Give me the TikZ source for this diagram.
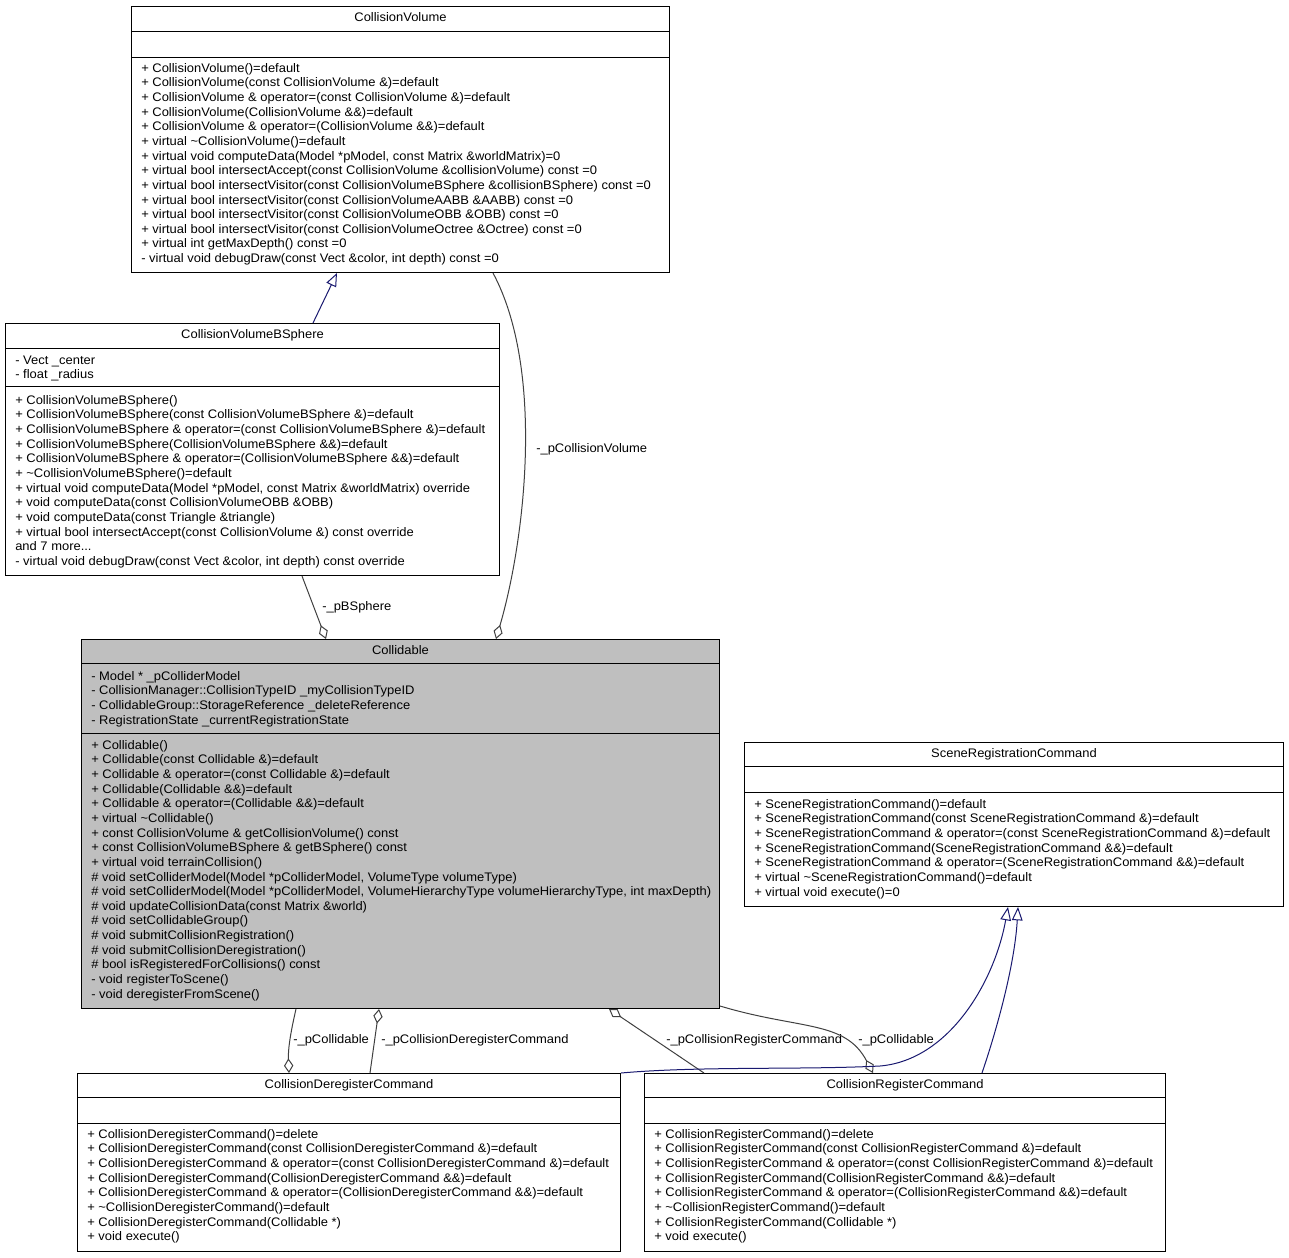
\documentclass[tikz,border=0pt]{standalone}
\usepackage{fontspec}
\setmainfont{Liberation Sans}[FakeStretch=1.045]
\usetikzlibrary{arrows.meta,calc}
\definecolor{navyedge}{RGB}{25,25,112}
\definecolor{greyedge}{RGB}{64,64,64}
\definecolor{colfill}{RGB}{191,191,191}
\newcommand\umlbox[6]{%
  \node[box,#6,minimum width={(#4-#2)*0.75pt},minimum height={(#5-#3)*0.75pt}] (#1) at (#2,#3) {};}
\newcommand\tl{\textasciitilde{}}
\begin{document}
\begin{tikzpicture}[x=0.75pt,y=-0.75pt,
  font=\fontsize{9.3}{10.98}\selectfont,
  box/.style={draw=black, line width=0.75pt, inner sep=0, anchor=north west},
  txt/.style={anchor=north west, align=left, inner sep=0},
  ttl/.style={anchor=base, inner sep=0},
  lbl/.style={anchor=base west, inner sep=0},
  inh/.style={draw=navyedge, line width=0.75pt, -{Triangle[open, length=10pt, width=8pt]}},
  agg/.style={draw=greyedge, line width=0.75pt, -{Diamond[open, length=11pt, width=7pt]}},
  sep/.style={draw=black, line width=0.75pt}]

\useasboundingbox[fill=white] (0,0) rectangle (1289,1257);

% ---------- CollisionVolume ----------
\umlbox{cv}{131}{6}{669}{272}{fill=white}
\draw[sep] ($(cv.north west)+(0,25)$) -- ($(cv.north east)+(0,25)$);
\draw[sep] ($(cv.north west)+(0,51)$) -- ($(cv.north east)+(0,51)$);
\node[ttl] (cvt) at ($(cv.north)+(0,15.5)$) {CollisionVolume};
\node[txt] (cvm) at (141,61.75) {\strut + CollisionVolume()=default\\
+ CollisionVolume(const CollisionVolume \&)=default\\
+ CollisionVolume \& operator=(const CollisionVolume \&)=default\\
+ CollisionVolume(CollisionVolume \&\&)=default\\
+ CollisionVolume \& operator=(CollisionVolume \&\&)=default\\
+ virtual \tl CollisionVolume()=default\\
+ virtual void computeData(Model *pModel, const Matrix \&worldMatrix)=0\\
+ virtual bool intersectAccept(const CollisionVolume \&collisionVolume) const =0\\
+ virtual bool intersectVisitor(const CollisionVolumeBSphere \&collisionBSphere) const =0\\
+ virtual bool intersectVisitor(const CollisionVolumeAABB \&AABB) const =0\\
+ virtual bool intersectVisitor(const CollisionVolumeOBB \&OBB) const =0\\
+ virtual bool intersectVisitor(const CollisionVolumeOctree \&Octree) const =0\\
+ virtual int getMaxDepth() const =0\\
- virtual void debugDraw(const Vect \&color, int depth) const =0};

% ---------- CollisionVolumeBSphere ----------
\umlbox{bs}{5}{323}{499}{575}{fill=white}
\draw[sep] ($(bs.north west)+(0,25)$) -- ($(bs.north east)+(0,25)$);
\draw[sep] ($(bs.north west)+(0,63)$) -- ($(bs.north east)+(0,63)$);
\node[ttl] (bst) at ($(bs.north)+(0,15.5)$) {CollisionVolumeBSphere};
\node[txt] (bsa) at (15,353.75) {\strut - Vect \_center\\
- float \_radius};
\node[txt] (bsm) at (15,393.75) {\strut + CollisionVolumeBSphere()\\
+ CollisionVolumeBSphere(const CollisionVolumeBSphere \&)=default\\
+ CollisionVolumeBSphere \& operator=(const CollisionVolumeBSphere \&)=default\\
+ CollisionVolumeBSphere(CollisionVolumeBSphere \&\&)=default\\
+ CollisionVolumeBSphere \& operator=(CollisionVolumeBSphere \&\&)=default\\
+ \tl CollisionVolumeBSphere()=default\\
+ virtual void computeData(Model *pModel, const Matrix \&worldMatrix) override\\
+ void computeData(const CollisionVolumeOBB \&OBB)\\
+ void computeData(const Triangle \&triangle)\\
+ virtual bool intersectAccept(const CollisionVolume \&) const override\\
and 7 more...\\
- virtual void debugDraw(const Vect \&color, int depth) const override};

% ---------- Collidable ----------
\umlbox{col}{81}{639}{719}{1008}{fill=colfill}
\draw[sep] ($(col.north west)+(0,24)$) -- ($(col.north east)+(0,24)$);
\draw[sep] ($(col.north west)+(0,94)$) -- ($(col.north east)+(0,94)$);
\node[ttl] (colt) at ($(col.north)+(0,15.5)$) {Collidable};
\node[txt] (cola) at (91,669.75) {\strut - Model * \_pColliderModel\\
- CollisionManager::CollisionTypeID \_myCollisionTypeID\\
- CollidableGroup::StorageReference \_deleteReference\\
- RegistrationState \_currentRegistrationState};
\node[txt] (colm) at (91,738.75) {\strut + Collidable()\\
+ Collidable(const Collidable \&)=default\\
+ Collidable \& operator=(const Collidable \&)=default\\
+ Collidable(Collidable \&\&)=default\\
+ Collidable \& operator=(Collidable \&\&)=default\\
+ virtual \tl Collidable()\\
+ const CollisionVolume \& getCollisionVolume() const\\
+ const CollisionVolumeBSphere \& getBSphere() const\\
+ virtual void terrainCollision()\\
\# void setColliderModel(Model *pColliderModel, VolumeType volumeType)\\
\# void setColliderModel(Model *pColliderModel, VolumeHierarchyType volumeHierarchyType, int maxDepth)\\
\# void updateCollisionData(const Matrix \&world)\\
\# void setCollidableGroup()\\
\# void submitCollisionRegistration()\\
\# void submitCollisionDeregistration()\\
\# bool isRegisteredForCollisions() const\\
- void registerToScene()\\
- void deregisterFromScene()};

% ---------- SceneRegistrationCommand ----------
\umlbox{src}{744}{742}{1283}{906}{fill=white}
\draw[sep] ($(src.north west)+(0,24)$) -- ($(src.north east)+(0,24)$);
\draw[sep] ($(src.north west)+(0,50)$) -- ($(src.north east)+(0,50)$);
\node[ttl] (srct) at ($(src.north)+(0,15.5)$) {SceneRegistrationCommand};
\node[txt] (srcm) at (754,797.75) {\strut + SceneRegistrationCommand()=default\\
+ SceneRegistrationCommand(const SceneRegistrationCommand \&)=default\\
+ SceneRegistrationCommand \& operator=(const SceneRegistrationCommand \&)=default\\
+ SceneRegistrationCommand(SceneRegistrationCommand \&\&)=default\\
+ SceneRegistrationCommand \& operator=(SceneRegistrationCommand \&\&)=default\\
+ virtual \tl SceneRegistrationCommand()=default\\
+ virtual void execute()=0};

% ---------- CollisionDeregisterCommand ----------
\umlbox{dc}{77}{1073}{620}{1251}{fill=white}
\draw[sep] ($(dc.north west)+(0,24)$) -- ($(dc.north east)+(0,24)$);
\draw[sep] ($(dc.north west)+(0,50)$) -- ($(dc.north east)+(0,50)$);
\node[ttl] (dct) at ($(dc.north)+(0,15.5)$) {CollisionDeregisterCommand};
\node[txt] (dcm) at (87,1127.75) {\strut + CollisionDeregisterCommand()=delete\\
+ CollisionDeregisterCommand(const CollisionDeregisterCommand \&)=default\\
+ CollisionDeregisterCommand \& operator=(const CollisionDeregisterCommand \&)=default\\
+ CollisionDeregisterCommand(CollisionDeregisterCommand \&\&)=default\\
+ CollisionDeregisterCommand \& operator=(CollisionDeregisterCommand \&\&)=default\\
+ \tl CollisionDeregisterCommand()=default\\
+ CollisionDeregisterCommand(Collidable *)\\
+ void execute()};

% ---------- CollisionRegisterCommand ----------
\umlbox{rc}{644}{1073}{1165}{1251}{fill=white}
\draw[sep] ($(rc.north west)+(0,24)$) -- ($(rc.north east)+(0,24)$);
\draw[sep] ($(rc.north west)+(0,50)$) -- ($(rc.north east)+(0,50)$);
\node[ttl] (rct) at ($(rc.north)+(0,15.5)$) {CollisionRegisterCommand};
\node[txt] (rcm) at (654,1127.75) {\strut + CollisionRegisterCommand()=delete\\
+ CollisionRegisterCommand(const CollisionRegisterCommand \&)=default\\
+ CollisionRegisterCommand \& operator=(const CollisionRegisterCommand \&)=default\\
+ CollisionRegisterCommand(CollisionRegisterCommand \&\&)=default\\
+ CollisionRegisterCommand \& operator=(CollisionRegisterCommand \&\&)=default\\
+ \tl CollisionRegisterCommand()=default\\
+ CollisionRegisterCommand(Collidable *)\\
+ void execute()};

% ---------- connectors ----------
\draw[inh] ($(bs.north west)+(308,0)$) -- ($(cv.south west)+(206,0)$);

\draw[agg] ($(cv.south west)+(362,0)$) .. controls (545,370) and (525,540) .. ($(col.north west)+(415,0)$);
\node[lbl] (l1) at (536,452) {-\_pCollisionVolume};

\draw[agg] ($(bs.south west)+(297,0)$) -- ($(col.north west)+(245,0)$);
\node[lbl] (l2) at (322,610) {-\_pBSphere};

\draw[agg] ($(col.south west)+(215,0)$) .. controls (290,1035) and (288,1050) .. ($(dc.north west)+(212,0)$);
\node[lbl] (l3) at (293,1043) {-\_pCollidable};

\draw[agg] ($(dc.north west)+(293,0)$) -- ($(col.south west)+(298,0)$);
\node[lbl] (l4) at (381,1043) {-\_pCollisionDeregisterCommand};

\draw[agg] ($(rc.north west)+(60,0)$) -- ($(col.south west)+(528,0)$);
\node[lbl] (l5) at (666,1043) {-\_pCollisionRegisterCommand};

\draw[agg] ($(col.south east)+(0,-3)$) .. controls (800,1030) and (845,1020) .. ($(rc.north west)+(229,0)$);
\node[lbl] (l6) at (858,1043) {-\_pCollidable};

\draw[inh] (dc.north east) .. controls (700,1066) and (800,1070) .. (880,1066)
  .. controls (950,1060) and (995,980) .. ($(src.south west)+(264,0)$);
\draw[inh] ($(rc.north west)+(338,0)$) .. controls (1000,1020) and (1015,960) .. ($(src.south west)+(274,0)$);
\end{tikzpicture}
\end{document}
